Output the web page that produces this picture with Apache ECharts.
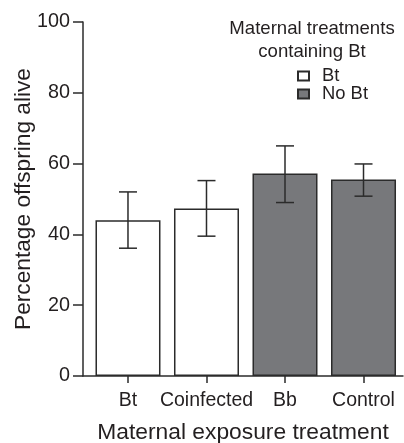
<!DOCTYPE html>
<html><head><meta charset="utf-8">
<script src="https://cdn.jsdelivr.net/npm/echarts@6/dist/echarts.min.js"></script>
<style>html,body{margin:0;padding:0;background:#fff}#c{width:404px;height:443px}</style>
</head><body><div id="c"></div>
<script>
const categories = ['Bt', 'Coinfected', 'Bb', 'Control'];
const means = [44.0, 47.3, 57.2, 55.5];
const errLow = [36.1, 39.5, 49.0, 50.8];
const errHigh = [52.0, 55.2, 65.0, 59.9];
const groups = ['Bt', 'Bt', 'No Bt', 'No Bt'];
const yTicks = [0, 20, 40, 60, 80, 100];

const FONT = 'Liberation Sans, Arial, Helvetica, sans-serif';
const TXT = '#231f20';
const EDGE = '#2b2b2b';

function groupData(g) {
  return categories.map((c, i) => groups[i] === g ? [i, means[i]] : null).filter(d => d);
}
const errData = categories.map((c, i) => [i, errLow[i], errHigh[i]]);

const chart = echarts.init(document.getElementById('c'), null, {renderer: 'canvas'});
chart.setOption({
  animation: false,
  textStyle: {fontFamily: FONT, color: TXT},
  title: {
    text: 'Maternal treatments\ncontaining Bt',
    left: 312, top: 17, textAlign: 'center', padding: 0,
    textStyle: {fontFamily: FONT, fontSize: 18.6, fontWeight: 'normal', color: TXT, lineHeight: 23}
  },
  legend: {
    orient: 'vertical', left: 297, top: 67, padding: 0,
    itemWidth: 11, itemHeight: 9, itemGap: 0,
    icon: 'rect',
    data: ['Bt', 'No Bt'],
    textStyle: {fontFamily: FONT, fontSize: 18.4, color: TXT, lineHeight: 15, padding: [0, 0, 0, 8]}
  },
  grid: {left: 83, right: 1, top: 22, bottom: 67, containLabel: false, outerBoundsMode: 'none'},
  xAxis: {
    type: 'value', min: -0.573, max: 3.503,
    name: 'Maternal exposure treatment', nameLocation: 'middle', nameGap: 45, nameMoveOverlap: false,
    nameTextStyle: {fontFamily: FONT, fontSize: 22.8, color: TXT},
    axisLine: {show: true, onZero: false, lineStyle: {color: EDGE, width: 1.5}},
    axisTick: {show: true, length: 7, customValues: [0, 1, 2, 3], lineStyle: {color: EDGE, width: 1.5}},
    axisLabel: {customValues: [0, 1, 2, 3], formatter: v => categories[Math.round(v)] || '',
      fontFamily: FONT, fontSize: 19.5, color: TXT, margin: 15},
    splitLine: {show: false}
  },
  yAxis: {
    type: 'value', min: 0, max: 100, interval: 20,
    name: 'Percentage offspring alive', nameLocation: 'middle', nameGap: 48, nameMoveOverlap: false,
    nameTextStyle: {fontFamily: FONT, fontSize: 22.7, color: TXT},
    axisLine: {show: true, onZero: false, lineStyle: {color: EDGE, width: 1.5}},
    axisTick: {show: true, length: 10, lineStyle: {color: EDGE, width: 1.5}},
    axisLabel: {fontFamily: FONT, fontSize: 19.8, color: TXT, margin: 13,
      formatter: v => yTicks.includes(v) ? String(v) : ''},
    splitLine: {show: false}
  },
  series: [
    {name: 'Bt', type: 'bar', data: groupData('Bt'), barWidth: 65, barGap: '-100%',
      itemStyle: {color: '#ffffff', borderColor: EDGE, borderWidth: 1.5}},
    {name: 'No Bt', type: 'bar', data: groupData('No Bt'), barWidth: 65, barGap: '-100%',
      itemStyle: {color: '#77787b', borderColor: EDGE, borderWidth: 1.5}},
    {name: 'err', type: 'custom', data: errData, z: 10,
      renderItem: function (params, api) {
        const x = api.value(0);
        const lo = api.coord([x, api.value(1)]);
        const hi = api.coord([x, api.value(2)]);
        const cw = 9;
        const st = {stroke: '#2b2b2b', lineWidth: 1.5};
        return {type: 'group', children: [
          {type: 'line', shape: {x1: lo[0], y1: lo[1], x2: hi[0], y2: hi[1]}, style: st},
          {type: 'line', shape: {x1: lo[0] - cw, y1: lo[1], x2: lo[0] + cw, y2: lo[1]}, style: st},
          {type: 'line', shape: {x1: hi[0] - cw, y1: hi[1], x2: hi[0] + cw, y2: hi[1]}, style: st}
        ]};
      }}
  ]
});
</script></body></html>
